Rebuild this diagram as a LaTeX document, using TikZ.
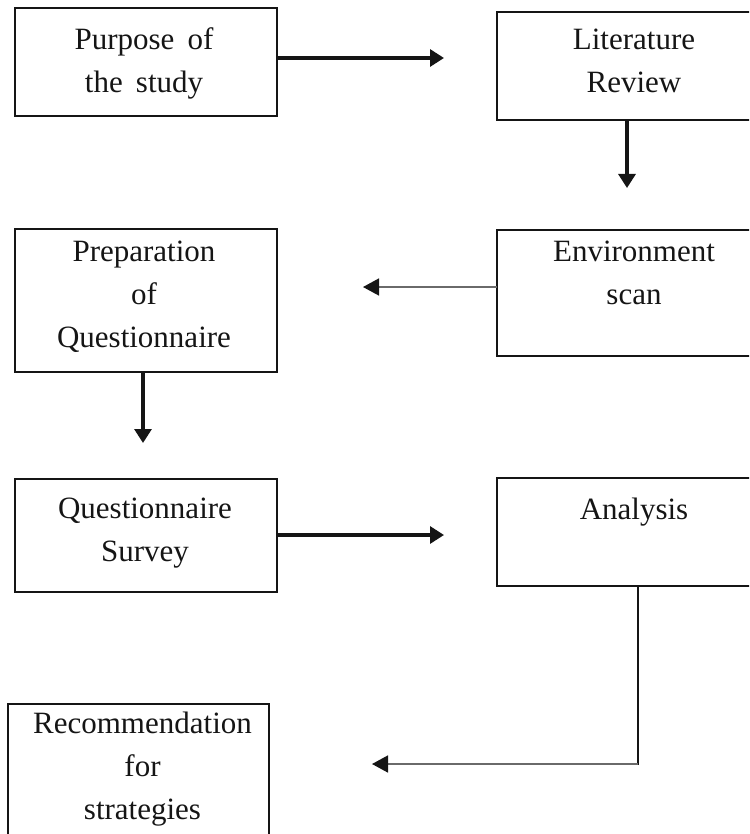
\documentclass[tikz,border=0pt]{standalone}
\usepackage{fontspec}
\setmainfont{Liberation Serif}[WordSpace=1.7]
\usetikzlibrary{arrows.meta}
\definecolor{ink}{HTML}{151515}
\definecolor{thinline}{HTML}{6A6A6A}
\begin{document}
\begin{tikzpicture}[x=1pt,y=-1pt,
  stepbox/.style={draw=ink, line width=2.7pt, rectangle, outer sep=0pt, inner sep=0pt, anchor=north west},
  boxtext/.style={anchor=north, inner sep=0pt, align=center, text=ink, font=\fontsize{31}{43}\selectfont},
  thickarrow/.style={draw=ink, line width=3.1pt, -{Triangle[length=14pt,width=17pt]}},
  thinarrow/.style={draw=thinline, line width=1.6pt, -{Triangle[length=16pt,width=17pt,color=ink]}},
]
\useasboundingbox (0,0) rectangle (749,834);
\clip (0,0) rectangle (749,834);

% process boxes
\node[stepbox, minimum width=262pt, minimum height=108pt] (purpose) at (15,8) {};
\node[stepbox, minimum width=274pt, minimum height=108pt] (review) at (497,12) {};
\node[stepbox, minimum width=262pt, minimum height=143pt] (prep) at (15,229) {};
\node[stepbox, minimum width=274pt, minimum height=126pt] (scan) at (497,230) {};
\node[stepbox, minimum width=262pt, minimum height=113pt] (survey) at (15,479) {};
\node[stepbox, minimum width=274pt, minimum height=108pt] (analysis) at (497,478) {};
\node[stepbox, minimum width=261pt, minimum height=160pt] (recommend) at (8,704) {};

% box captions, set from the top of each box
\node[boxtext] (purposeT) at (144,27) {Purpose of\\the study};
\node[boxtext] (reviewT) at (634,29) {Literature\\Review};
\node[boxtext] (prepT) at (144,241) {Preparation\\of\\Questionnaire};
\node[boxtext] (scanT) at (634,241) {Environment\\scan};
\node[boxtext] (surveyT) at (145,498) {Questionnaire\\Survey};
\node[boxtext] (analysisT) at (634,498) {Analysis};
\node[boxtext] (recommendT) at (142.5,712) {Recommendation\\for\\strategies};

% flow connectors
\coordinate (tip1) at (444,58);
\draw[thickarrow] (purpose.east |- tip1) -- (tip1);
\coordinate (tip2) at (627,188);
\draw[thickarrow] (review.south -| tip2) -- (tip2);
\coordinate (tip3) at (363,287);
\draw[thinarrow] (scan.west |- tip3) -- (tip3);
\coordinate (tip4) at (143,443);
\draw[thickarrow] (prep.south -| tip4) -- (tip4);
\coordinate (tip5) at (444,535);
\draw[thickarrow] (survey.east |- tip5) -- (tip5);
\coordinate (bend) at (638,764);
\coordinate (tip6) at (372,764);
\draw[draw=ink, line width=2.7pt] (analysis.south -| bend) -- ([yshift=-0.8pt]bend);
\draw[thinarrow] (bend) -- (tip6);
\end{tikzpicture}
\end{document}
